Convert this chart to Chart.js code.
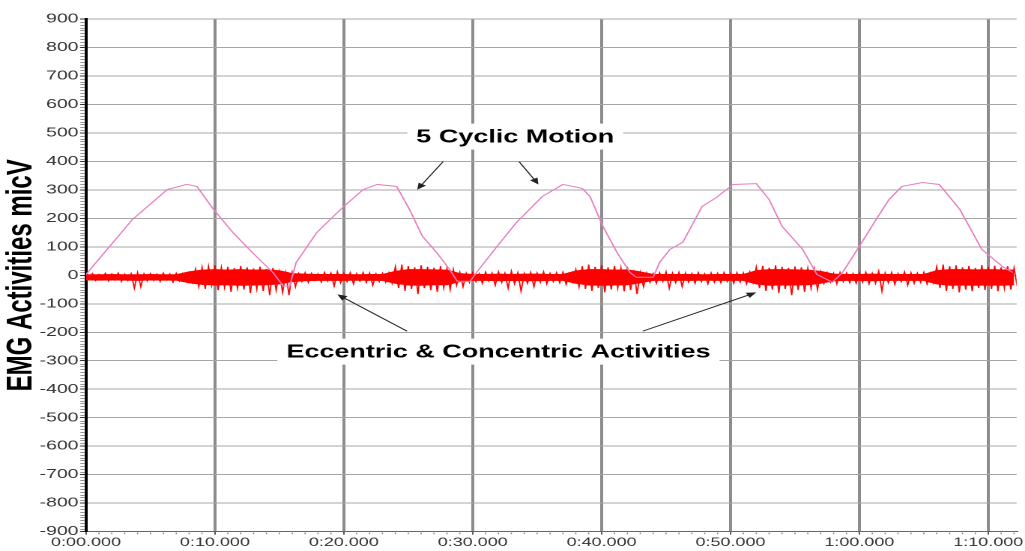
<!DOCTYPE html>
<html>
<head>
<meta charset="utf-8">
<title>EMG Activities</title>
<script src="https://cdn.jsdelivr.net/npm/chart.js@4.4.0/dist/chart.umd.min.js"></script>
<style>
  html, body { margin: 0; padding: 0; background: #fff; overflow: hidden; }
  /* the source picture is a stretched screenshot, so the chart is drawn narrow and widened */
  #wrap { width: 684px; height: 551px; transform: scaleX(1.49854); transform-origin: 0 0; }
</style>
</head>
<body>
<div id="wrap"><canvas id="js-chart-emg" width="684" height="551"></canvas></div>
<script>
// x axis labels (every 10 s)
const xTickLabels = ["0:00.000", "0:10.000", "0:20.000", "0:30.000", "0:40.000", "0:50.000", "1:00.000", "1:10.000"];

// pink trace: 5 cyclic motion (seconds / value)
const motionTime = [0, 1.9, 3.6, 5.0, 6.3, 7.8, 8.6, 9.9, 11.4, 12.9, 14.5, 15.3, 15.8, 16.3, 17.9, 19.1, 20.0,
    21.5, 22.6, 24.1, 25.1, 26.1, 27.2, 28.2, 28.8, 29.8, 30.3, 31.9, 33.4, 35.4, 37.0, 38.5, 39.1, 40.1,
    41.2, 42.2, 42.7, 44.0, 44.5, 45.3, 46.3, 47.8, 48.9, 50.2, 52.0, 53.0, 54.0, 55.6, 56.7, 57.9, 58.7,
    60.0, 61.3, 62.3, 63.3, 64.9, 66.2, 67.8, 69.5, 71.1, 71.9];
const motionValue = [3, 105, 196, 250, 301, 319, 312, 231, 150, 80, 10, -38, -38, 45, 150, 203, 242,
    301, 319, 312, 231, 137, 80, 21, -21, -21, 10, 102, 186, 277, 319, 305, 277, 172,
    80, 10, -7, -7, 45, 91, 116, 242, 273, 319, 322, 266, 172, 91, 3, -24, 10,
    102, 196, 266, 312, 326, 319, 231, 91, 31, 10];

// red trace: EMG spikes, highest and lowest reading in each 0.5 s slot
const emgStep = 0.5;
const emgHigh = [
    4, 6, 3, 7, 5, 8, 4, 6, 9, 5,
    6, 4, 8, 5, 7, 6, 9, 22, 28, 31,
    35, 27, 30, 25, 33, 28, 24, 30, 22, 26,
    12, 8, 10, 6, 9, 7, 5, 10, 8, 12,
    7, 9, 6, 10, 8, 5, 7, 9, 30, 38,
    33, 28, 35, 30, 27, 32, 24, 20, 10, 7,
    9, 6, 11, 8, 12, 7, 14, 9, 6, 10,
    8, 12, 7, 9, 11, 6, 20, 32, 38, 30,
    35, 28, 33, 25, 30, 18, 10, 8, 6, 9,
    12, 7, 10, 8, 6, 9, 5, 8, 7, 10,
    6, 9, 8, 12, 28, 33, 27, 35, 30, 26,
    31, 28, 24, 22, 12, 9, 7, 10, 8, 6,
    9, 11, 7, 14, 8, 10, 6, 12, 9, 7,
    10, 8, 30, 38, 32, 35, 28, 33, 26, 36,
    30, 34, 28, 32, 25];
const emgLow = [
    -12, -18, -15, -20, -16, -22, -18, -45, -40, -20,
    -18, -22, -16, -24, -20, -18, -25, -40, -48, -35,
    -52, -42, -58, -45, -50, -62, -48, -55, -70, -52,
    -60, -70, -40, -22, -25, -18, -24, -20, -38, -26,
    -22, -30, -20, -25, -35, -22, -24, -28, -45, -55,
    -48, -66, -45, -52, -58, -44, -50, -35, -40, -25,
    -22, -28, -20, -35, -25, -45, -30, -56, -28, -40,
    -24, -30, -22, -26, -32, -24, -40, -48, -55, -45,
    -60, -50, -45, -56, -52, -66, -40, -25, -28, -22,
    -45, -26, -40, -24, -28, -22, -30, -24, -26, -22,
    -28, -24, -30, -26, -45, -55, -50, -62, -48, -70,
    -52, -58, -45, -50, -28, -24, -30, -22, -26, -28,
    -24, -30, -28, -56, -26, -32, -22, -35, -28, -24,
    -30, -26, -45, -55, -48, -60, -50, -56, -45, -52,
    -48, -56, -45, -50, -40];

// red trace: solid core of the EMG band, every 1 s
const coreStep = 1;
const coreHigh = [
    2, 2, 3, 2, 2, 3, 2, 2, 12, 18,
    20, 18, 20, 18, 19, 16, 6, 4, 3, 3,
    3, 2, 3, 3, 14, 20, 20, 19, 18, 6,
    3, 3, 4, 3, 4, 4, 3, 3, 15, 20,
    20, 18, 19, 12, 3, 3, 3, 3, 2, 3,
    3, 3, 16, 20, 20, 19, 18, 14, 4, 3,
    3, 4, 3, 3, 3, 3, 16, 20, 20, 19,
    20, 19, 18];
const coreLow = [
    -16, -17, -16, -17, -18, -16, -17, -17, -26, -32,
    -34, -33, -35, -34, -33, -30, -22, -19, -18, -18,
    -18, -17, -18, -18, -28, -34, -35, -33, -33, -22,
    -18, -18, -19, -18, -19, -19, -18, -18, -28, -34,
    -35, -34, -33, -26, -18, -18, -18, -18, -17, -18,
    -18, -18, -30, -35, -34, -34, -33, -28, -19, -18,
    -18, -19, -18, -18, -18, -18, -30, -35, -34, -35,
    -34, -35, -33];

// callouts, in data units (seconds, micV)
const notes = [
    { text: "5 Cyclic Motion", x: 33.3, y: 487 },
    { text: "Eccentric & Concentric Activities", x: 32.0, y: -268 }
];
const arrows = [
    { from: [27.7, 399], to: [25.7, 301] },
    { from: [33.6, 399], to: [35.1, 319] },
    { from: [24.9, -196], to: [19.5, -67] },
    { from: [43.2, -196], to: [52.0, -60] }
];

const fontFamily = "'Liberation Sans', Arial, Helvetica, sans-serif";

// raw trace swings between the slot's high and low reading
const emgPoints = [];
emgHigh.forEach((hi, i) => {
    emgPoints.push({ x: i * emgStep, y: hi });
    emgPoints.push({ x: i * emgStep + emgStep / 2, y: emgLow[i] });
});
const coreHighPoints = coreHigh.map((v, i) => ({ x: i * coreStep, y: v }));
const coreLowPoints = coreLow.map((v, i) => ({ x: i * coreStep, y: v }));
const motionPoints = motionValue.map((v, i) => ({ x: motionTime[i], y: v }));

// small ticks on both axes
const minorTicks = {
    id: "minorTicks",
    afterDraw(chart) {
        const c = chart.ctx, x = chart.scales.x, y = chart.scales.y;
        const area = chart.chartArea;
        c.save();
        c.strokeStyle = "#777";
        c.lineWidth = 0.8;
        c.beginPath();
        for (let v = -900; v <= 900; v += 10) {
            if (v % 100 === 0) continue;
            const py = Math.round(y.getPixelForValue(v)) + 0.5;
            c.moveTo(area.left - 3.8, py);
            c.lineTo(area.left - 1, py);
        }
        for (let t = 1; t <= 72; t++) {
            if (t % 10 === 0) continue;
            const px = x.getPixelForValue(t);
            c.moveTo(px, area.bottom + 1);
            c.lineTo(px, area.bottom + 2.5);
        }
        c.stroke();
        c.restore();
    }
};

// text boxes and arrows
const callouts = {
    id: "callouts",
    afterDatasetsDraw(chart) {
        const c = chart.ctx, x = chart.scales.x, y = chart.scales.y;
        c.save();
        c.font = "bold 18px " + fontFamily;
        c.textAlign = "center";
        c.textBaseline = "middle";
        notes.forEach(n => {
            const px = x.getPixelForValue(n.x), py = y.getPixelForValue(n.y);
            const w = c.measureText(n.text).width;
            c.fillStyle = "#fff";
            c.fillRect(px - w / 2 - 6, py - 13, w + 12, 26);
            c.fillStyle = "#000";
            c.fillText(n.text, px, py + 1);
        });
        c.strokeStyle = "#222";
        c.fillStyle = "#222";
        c.lineWidth = 0.9;
        arrows.forEach(a => {
            const x1 = x.getPixelForValue(a.from[0]), y1 = y.getPixelForValue(a.from[1]);
            const x2 = x.getPixelForValue(a.to[0]), y2 = y.getPixelForValue(a.to[1]);
            const ang = Math.atan2(y2 - y1, x2 - x1);
            const len = 7, half = 0.42;
            c.beginPath();
            c.moveTo(x1, y1);
            c.lineTo(x2 - Math.cos(ang) * len * 0.8, y2 - Math.sin(ang) * len * 0.8);
            c.stroke();
            c.beginPath();
            c.moveTo(x2, y2);
            c.lineTo(x2 - len * Math.cos(ang - half), y2 - len * Math.sin(ang - half));
            c.lineTo(x2 - len * Math.cos(ang + half), y2 - len * Math.sin(ang + half));
            c.closePath();
            c.fill();
        });
        c.restore();
    }
};

const el = document.getElementById("js-chart-emg");
new Chart(el, {
    type: "line",
    data: {
        datasets: [{
            label: "Cyclic Motion",
            data: motionPoints,
            borderColor: "#e67fc0",
            borderWidth: 1,
            pointRadius: 0,
            fill: false,
            tension: 0
        }, {
            label: "EMG",
            data: emgPoints,
            borderColor: "#ff0000",
            borderWidth: 0.9,
            pointRadius: 0,
            fill: false,
            tension: 0
        }, {
            label: "EMG core high",
            data: coreHighPoints,
            borderColor: "#ff0000",
            backgroundColor: "#ff0000",
            borderWidth: 1,
            pointRadius: 0,
            fill: "+1",
            tension: 0
        }, {
            label: "EMG core low",
            data: coreLowPoints,
            borderColor: "#ff0000",
            borderWidth: 1,
            pointRadius: 0,
            fill: false,
            tension: 0
        }]
    },
    options: {
        responsive: false,
        animation: false,
        devicePixelRatio: 2,
        layout: { padding: { top: 19, right: 5.3, left: 0, bottom: 0 } },
        plugins: {
            legend: { display: false },
            tooltip: { enabled: false }
        },
        scales: {
            x: {
                type: "linear",
                min: 0,
                max: 72.2,
                ticks: {
                    stepSize: 10,
                    includeBounds: false,
                    autoSkip: false,
                    maxRotation: 0,
                    padding: 1,
                    color: "#333",
                    font: { family: fontFamily, size: 12 },
                    callback: v => xTickLabels[Math.round(v / 10)]
                },
                grid: { color: "#8c8c8c", lineWidth: 2, tickLength: 3, tickColor: "#555", tickWidth: 1 },
                border: { color: "#666", width: 1 }
            },
            y: {
                min: -900,
                max: 900,
                afterFit: s => { s.width = 57.4; },
                ticks: {
                    stepSize: 100,
                    padding: 1,
                    color: "#333",
                    font: { family: fontFamily, size: 13 }
                },
                title: {
                    display: true,
                    text: "EMG Activities micV",
                    color: "#000",
                    padding: 0,
                    font: { family: fontFamily, size: 24, weight: "bold" }
                },
                grid: { color: "#a6a6a6", lineWidth: 1, tickLength: 4, tickColor: "#333" },
                border: { color: "#000", width: 2 }
            }
        }
    },
    plugins: [minorTicks, callouts]
});
</script>
</body>
</html>
